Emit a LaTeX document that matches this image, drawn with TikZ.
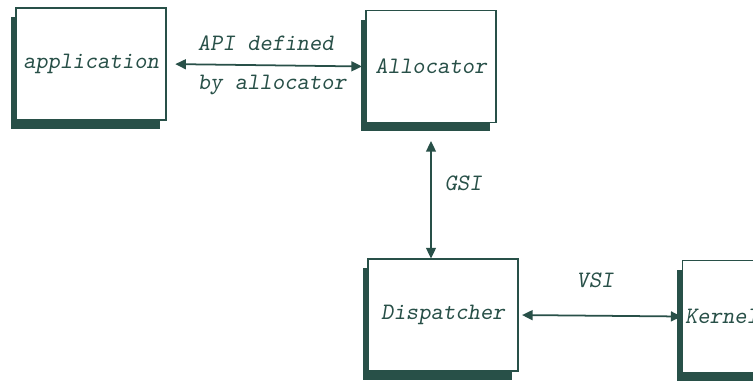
\documentclass[tikz,border=0pt]{standalone}
\usepackage{fontspec}
\usepackage{xcolor}
\usepackage{tikz}
\usetikzlibrary{arrows.meta, shadows}

\definecolor{dkteal}{RGB}{40,80,72}

\begin{document}
\begin{tikzpicture}[x=0.02cm, y=-0.02cm,
  font=\fontsize{13.4}{22}\selectfont\ttfamily\slshape\addfontfeature{FakeBold=1.2},
  every node/.style={text=dkteal},
  module/.style={draw=dkteal, line width=0.6pt, fill=white, minimum height=2.24cm,
    drop shadow={shadow xshift=-0.11cm, shadow yshift=-0.18cm, fill=dkteal, opacity=1}},
  link/.style={draw=dkteal, line width=1pt, {Triangle[length=6pt,width=5.6pt]}-{Triangle[length=6pt,width=5.6pt]}}]
\useasboundingbox (0,0) rectangle (753,383);
\clip (0,0) rectangle (753,383);

\node[module, minimum width=3cm] (app) at (91,64) {application};
\node[module, minimum width=2.6cm] (alloc) at (431,66.5) {Allocator};
\node[module, minimum width=3cm] (disp) at (443,315) {Dispatcher};
\node[module, text width=2.9cm, align=left, inner xsep=0.06cm] (kern) at (757.5,316.5) {Kernel};

\draw[link, shorten <=5pt, shorten >=2pt] (app.east) -- (alloc.west)
  node[midway, align=left, xshift=0.12cm] {API defined\\by allocator};
\draw[link, line width=0.8pt, shorten <=0.36cm, shorten >=0pt] (alloc.south) -- (disp.north -| alloc.south)
  node[midway, right=0.14cm, yshift=0.14cm] {GSI};
\draw[link, shorten <=2pt, shorten >=0pt] (disp.east) -- (kern.west)
  node[midway, above=0.42cm, xshift=-0.1cm] {VSI};
\end{tikzpicture}
\end{document}
